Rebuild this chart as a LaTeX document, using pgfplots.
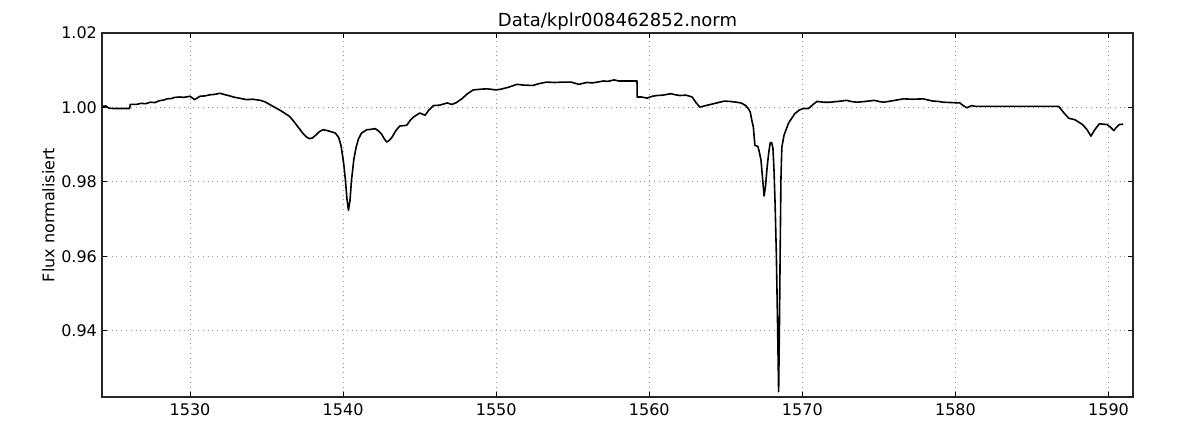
\documentclass[border=0pt]{standalone}
\usepackage{fontspec}
\setmainfont{DejaVu Sans}
\usepackage{pgfplots}
\pgfplotsset{compat=1.18}
\usetikzlibrary{calc}
\begin{document}
\begin{tikzpicture}
\begin{axis}[
  name=ax,
  scale only axis,
  width=515.5pt, height=182pt,
  xmin=1524.25, xmax=1591.6,
  ymin=0.9222, ymax=1.02,
  xtick={1530,1540,1550,1560,1570,1580,1590},
  ytick={0.94,0.96,0.98,1.00,1.02},
  /pgf/number format/assume math mode=true,
  xticklabel style={font=\fontsize{8}{9}\selectfont, /pgf/number format/1000 sep={}},
  yticklabel style={font=\fontsize{8}{9}\selectfont, /pgf/number format/fixed, /pgf/number format/fixed zerofill, /pgf/number format/precision=2, xshift=1pt},
  scaled y ticks=false,
  tick align=inside,
  major tick length=2.5pt,
  tick style={black, line width=0.5pt},
  grid=major,
  grid style={dotted, gray!80, line width=0.5pt},
  axis line style={black!85, line width=0.9pt},
  title={Data/kplr008462852.norm},
  title style={font=\fontsize{9}{10}\selectfont, yshift=-8pt},
  ylabel={Flux normalisiert},
  ylabel style={font=\fontsize{8}{9}\selectfont, yshift=-3.5pt},
  xlabel={Zeit},
  xlabel style={font=\fontsize{8}{9}\selectfont},
]
\addplot[black, line width=0.8pt, line join=round] coordinates {
(1524.3,1.0003) (1524.5,1.0004) (1524.7,0.9998) (1525.0,0.9997) (1525.5,0.9997)
(1526.05,0.9997) (1526.1,1.0008) (1526.5,1.0008) (1526.8,1.0011) (1527.1,1.0010)
(1527.4,1.0014) (1527.7,1.0013) (1528.0,1.0018) (1528.3,1.0020) (1528.5,1.0023)
(1528.8,1.0024) (1529.0,1.0027) (1529.35,1.0028) (1529.6,1.0027) (1530.0,1.0030)
(1530.3,1.0021) (1530.65,1.0030) (1531.0,1.0031) (1531.3,1.0034) (1531.6,1.0035)
(1531.96,1.0038) (1532.3,1.0034) (1532.6,1.0031) (1532.83,1.0028) (1533.2,1.0025)
(1533.7,1.0021) (1534.1,1.0022) (1534.6,1.0019) (1534.9,1.0015) (1535.2,1.0008)
(1535.5,1.0001) (1535.9,0.9992) (1536.2,0.9984) (1536.5,0.9976) (1536.75,0.9964)
(1536.97,0.9952) (1537.2,0.9940) (1537.4,0.9929) (1537.6,0.9921) (1537.8,0.9916)
(1538.0,0.9918) (1538.2,0.9925) (1538.45,0.9935) (1538.7,0.9940) (1538.95,0.9938)
(1539.2,0.9935) (1539.5,0.9931) (1539.7,0.9920) (1539.85,0.9900) (1539.95,0.9875)
(1540.05,0.9845) (1540.15,0.9805) (1540.25,0.9755) (1540.35,0.9724) (1540.45,0.9750)
(1540.55,0.9805) (1540.7,0.9860) (1540.85,0.9893) (1541.0,0.9915) (1541.2,0.9931)
(1541.55,0.9940) (1541.8,0.9941) (1542.1,0.9943) (1542.3,0.9937) (1542.5,0.9929)
(1542.7,0.9915) (1542.85,0.9907) (1543.0,0.9911) (1543.2,0.9920) (1543.45,0.9938)
(1543.7,0.9950) (1544.15,0.9952) (1544.4,0.9966) (1544.6,0.9974) (1545.0,0.9985)
(1545.36,0.9979) (1545.6,0.9993) (1545.9,1.0005) (1546.3,1.0006) (1546.8,1.0012)
(1547.1,1.0008) (1547.4,1.0013) (1547.75,1.0023) (1548.1,1.0036) (1548.5,1.0047)
(1549.0,1.0049) (1549.4,1.0050) (1550.0,1.0047) (1550.3,1.0049) (1550.7,1.0053)
(1551.0,1.0057) (1551.35,1.0062) (1551.8,1.0060) (1552.4,1.0059) (1552.8,1.0064)
(1553.3,1.0068) (1553.8,1.0067) (1554.4,1.0068) (1554.9,1.0068) (1555.4,1.0062)
(1555.9,1.0067) (1556.3,1.0066) (1556.6,1.0068) (1557.0,1.0071) (1557.3,1.0070)
(1557.7,1.0074) (1558.0,1.0071) (1559.2,1.0071) (1559.21,1.0028) (1559.5,1.0028)
(1559.85,1.0025) (1560.2,1.0030) (1560.5,1.0032) (1560.9,1.0033) (1561.4,1.0037)
(1561.7,1.0034) (1562.0,1.0032) (1562.4,1.0033) (1562.8,1.0028) (1563.05,1.0013)
(1563.3,1.0001) (1563.6,1.0004) (1564.0,1.0008) (1564.4,1.0012) (1564.9,1.0017)
(1565.3,1.0016) (1565.7,1.0014) (1566.0,1.0012) (1566.3,1.0005) (1566.5,0.9995)
(1566.6,0.9987) (1566.7,0.9965) (1566.8,0.9947) (1566.9,0.9898) (1567.1,0.9895)
(1567.2,0.9878) (1567.3,0.9858) (1567.4,0.9810) (1567.5,0.9762) (1567.6,0.9790)
(1567.7,0.9840) (1567.8,0.9877) (1567.9,0.9905) (1568.0,0.9905) (1568.08,0.9890)
(1568.15,0.9830) (1568.22,0.9740) (1568.3,0.9608) (1568.38,0.9420) (1568.45,0.9236)
(1568.5,0.9400) (1568.55,0.9608) (1568.6,0.9804) (1568.66,0.9893) (1568.8,0.9925)
(1569.1,0.9958) (1569.5,0.9983) (1569.8,0.9993) (1570.05,0.9997) (1570.4,0.9997)
(1570.7,1.0008) (1570.95,1.0016) (1571.4,1.0014) (1571.8,1.0014) (1572.3,1.0016)
(1572.9,1.0019) (1573.2,1.0016) (1573.55,1.0014) (1574.1,1.0016) (1574.7,1.0019)
(1575.0,1.0016) (1575.3,1.0014) (1575.9,1.0018) (1576.6,1.0023) (1577.2,1.0022)
(1577.9,1.0023) (1578.2,1.0020) (1578.55,1.0017) (1578.9,1.0016) (1579.2,1.0014)
(1579.8,1.0013) (1580.3,1.0012) (1580.5,1.0005) (1580.75,0.9999) (1581.05,1.0005)
(1581.3,1.0003) (1586.75,1.0003) (1587.05,0.9987) (1587.4,0.9971) (1587.8,0.9967)
(1588.3,0.9954) (1588.6,0.9940) (1588.85,0.9923) (1589.1,0.9940) (1589.4,0.9956)
(1589.9,0.9954) (1590.1,0.9948) (1590.35,0.9938) (1590.5,0.9946) (1590.7,0.9954)
(1590.96,0.9955)
};
\end{axis}
\pgfresetboundingbox
\path[use as bounding box] ($(ax.south west)+(-51pt,-15pt)$) rectangle ($(ax.north east)+(33.5pt,16.5pt)$);
\end{tikzpicture}
\end{document}
